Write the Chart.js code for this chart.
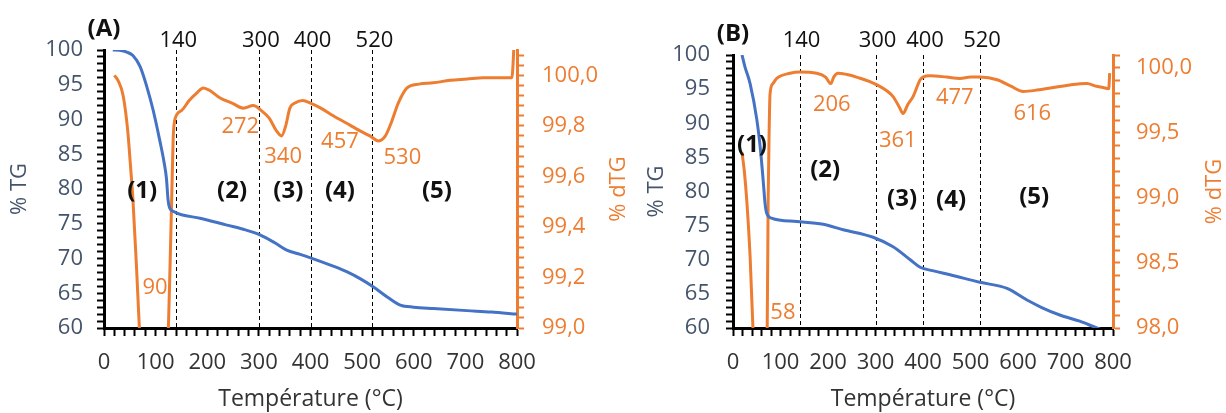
<!DOCTYPE html>
<html>
<head>
<meta charset="utf-8">
<script src="https://cdn.jsdelivr.net/npm/chart.js@4.4.1/dist/chart.umd.min.js"></script>
<style>
  html, body { margin: 0; padding: 0; background: #fff; }
  #wrap { position: relative; width: 1226px; height: 413px; overflow: hidden; }
  canvas { position: absolute; top: 0; }
  #chartA { left: 0; }
  #chartB { left: 615px; }
</style>
</head>
<body>
<div id="wrap">
  <canvas id="chartA" width="630" height="413"></canvas>
  <canvas id="chartB" width="611" height="413"></canvas>
</div>
<script>
// ---- panel A : TG ----
const tgA_T = [17, 30, 44, 56, 70, 83, 95, 108, 116, 121, 124, 127, 134, 150, 186, 238, 270, 302, 330, 354, 380, 400, 444, 470, 496, 522, 550, 574, 600, 638, 703, 750, 800];
const tgA   = [100, 99.95, 99.7, 99.2, 97.6, 94.7, 91.4, 87.0, 84.0, 81.5, 78.5, 77.3, 76.8, 76.3, 75.8, 74.8, 74.2, 73.4, 72.3, 71.2, 70.6, 70.1, 68.9, 68.1, 67.1, 65.9, 64.4, 63.3, 63.0, 62.8, 62.5, 62.3, 62.0];
// ---- panel A : dTG ----
const dtgA_T = [20, 27, 37, 46, 51, 56, 63, 68.5, 78, 90, 100, 112, 120, 125, 128, 131, 134, 138, 150, 165, 180, 192, 205, 225, 248, 270, 289, 305, 320, 334, 344, 352, 360, 370, 385, 400, 420, 444, 470, 496, 515, 532, 545, 556, 570, 587, 610, 638, 670, 703, 735, 767, 790, 795];
const dtgA   = [100.0, 99.98, 99.92, 99.78, 99.65, 99.51, 99.24, 99.0, 98.57, 98.05, 98.1, 98.3, 98.75, 99.02, 99.25, 99.5, 99.75, 99.83, 99.86, 99.9, 99.93, 99.95, 99.94, 99.91, 99.89, 99.87, 99.88, 99.86, 99.83, 99.78, 99.76, 99.8, 99.87, 99.89, 99.9, 99.89, 99.87, 99.84, 99.81, 99.78, 99.76, 99.74, 99.76, 99.81, 99.89, 99.95, 99.965, 99.97, 99.98, 99.985, 99.99, 99.99, 99.99, 100.15];
const stepsA = [140, 300, 400, 520];
const peaksA = ['90', '272', '340', '457', '530'];
const zonesA = ['(1)', '(2)', '(3)', '(4)', '(5)'];

// ---- panel B : TG ----
const tgB_T = [19, 25, 36, 50, 58, 64, 67.4, 71, 81, 134, 190, 232, 295, 337, 373, 394, 420, 457, 520, 577, 619, 650, 688, 730, 766, 790];
const tgB   = [100, 98.3, 95.8, 90.6, 86.0, 81.2, 78.3, 76.8, 76.1, 75.6, 75.2, 74.4, 73.3, 71.9, 70.0, 68.9, 68.4, 67.8, 66.7, 65.8, 64.1, 63.0, 61.9, 61.0, 60.0, 59.4];
// ---- panel B : dTG ----
const dtgB_T = [19, 24, 29, 36, 42, 50, 58, 66, 72, 74, 76, 78, 84, 92, 120, 141, 176, 195, 206, 212, 221, 240, 260, 303, 337, 350, 358, 368, 379, 394, 400, 415, 450, 478, 500, 520, 556, 585, 611, 640, 674, 710, 745, 765, 779, 791, 793];
const dtgB   = [99.35, 99.2, 98.98, 98.55, 98.0, 97.5, 97.3, 97.6, 98.0, 98.98, 99.5, 99.8, 99.88, 99.92, 99.96, 99.97, 99.96, 99.93, 99.88, 99.93, 99.96, 99.95, 99.93, 99.87, 99.78, 99.7, 99.65, 99.72, 99.78, 99.91, 99.93, 99.94, 99.93, 99.92, 99.93, 99.93, 99.91, 99.86, 99.82, 99.83, 99.85, 99.87, 99.88, 99.86, 99.85, 99.84, 99.96];
const stepsB = [140, 300, 400, 520];
const peaksB = ['58', '206', '361', '477', '616'];
const zonesB = ['(1)', '(2)', '(3)', '(4)', '(5)'];

// where the labels sit (x in °C, y on the % TG axis)
const peakPosA = [[99, 65.8], [264, 88.9], [347, 84.6], [457, 86.8], [578, 84.5]];
const zonePosA = [[74, 79.7], [248, 79.7], [357, 79.7], [457, 79.7], [645, 79.7]];
const peakPosB = [[105, 62.2], [208, 92.7], [347, 87.5], [467, 93.8], [630, 91.4]];
const zonePosB = [[40, 86.8], [194, 83.2], [356, 78.9], [459, 78.8], [634, 79.2]];

const FAM = '"Open Sans", sans-serif';
const FS = 22;
const BLUE = '#4472C4';
const ORANGE = '#ED7D31';
const SLATE = '#44546A';

function range(a, b, s) {
  const out = [];
  const n = Math.round((b - a) / s);
  for (let i = 0; i <= n; i++) out.push({ value: +(a + i * s).toFixed(4) });
  return out;
}
function pts(xs, ys) {
  return xs.map((t, i) => ({ x: t, y: ys[i] }));
}
function isMult(v, m) {
  const q = v / m;
  return Math.abs(q - Math.round(q)) < 1e-6;
}

function makePanel(id, p) {
  const annot = {
    id: 'annot',
    beforeDatasetsDraw(chart) {
      const { ctx, chartArea: a, scales: { x } } = chart;
      ctx.save();
      ctx.strokeStyle = '#000';
      ctx.lineWidth = 1;
      ctx.setLineDash([4, 3]);
      p.steps.forEach(v => {
        const px = Math.round(x.getPixelForValue(v)) + 0.5;
        ctx.beginPath();
        ctx.moveTo(px, a.top);
        ctx.lineTo(px, a.bottom);
        ctx.stroke();
      });
      ctx.restore();
    },
    afterDraw(chart) {
      const { ctx, chartArea: a, scales: { x, y } } = chart;
      ctx.save();
      ctx.textAlign = 'center';
      ctx.textBaseline = 'middle';
      ctx.font = FS + 'px ' + FAM;
      ctx.fillStyle = '#111';
      p.steps.forEach(v => ctx.fillText(String(v), x.getPixelForValue(v) + 2, 41));
      ctx.fillStyle = ORANGE;
      p.peaks.forEach((t, i) => ctx.fillText(t, x.getPixelForValue(p.peakPos[i][0]), y.getPixelForValue(p.peakPos[i][1])));
      ctx.font = 'bold 24px ' + FAM;
      ctx.fillStyle = '#111';
      p.zones.forEach((t, i) => ctx.fillText(t, x.getPixelForValue(p.zonePos[i][0]), y.getPixelForValue(p.zonePos[i][1])));
      ctx.fillText(p.name, a.left, p.nameY);
      // right axis title, reading upwards
      ctx.font = FS + 'px ' + FAM;
      ctx.fillStyle = ORANGE;
      ctx.translate(a.right + 102, (a.top + a.bottom) / 2);
      ctx.rotate(-Math.PI / 2);
      ctx.fillText('% dTG', 0, 0);
      ctx.restore();
    }
  };

  const tickFont = { family: FAM, size: FS };

  return new Chart(document.getElementById(id), {
    type: 'line',
    data: {
      datasets: [
        {
          label: '% TG', data: pts(p.tgT, p.tg), yAxisID: 'y',
          borderColor: BLUE, borderWidth: 3, pointRadius: 0,
          cubicInterpolationMode: 'monotone', clip: 0
        },
        {
          label: '% dTG', data: pts(p.dtgT, p.dtg), yAxisID: 'y2',
          borderColor: ORANGE, borderWidth: 3, pointRadius: 0,
          cubicInterpolationMode: 'monotone', clip: 0
        }
      ]
    },
    options: {
      responsive: false,
      animation: false,
      devicePixelRatio: 1,
      layout: { padding: { top: p.top, left: 0, right: 0, bottom: 0 } },
      plugins: { legend: { display: false }, tooltip: { enabled: false } },
      scales: {
        x: {
          type: 'linear', min: 0, max: 800,
          afterBuildTicks: s => { s.ticks = range(0, 800, 20); },
          ticks: {
            autoSkip: false, maxRotation: 0, padding: 14, color: '#333', font: tickFont,
            callback: v => isMult(v, 100) ? String(v) : ''
          },
          grid: { drawOnChartArea: false, tickLength: 8, tickColor: '#000', tickWidth: 2 },
          border: { color: '#000', width: 3 },
          title: { display: true, text: 'Température (°C)', color: '#333', font: { family: FAM, size: 23 }, padding: { top: 0, bottom: 0 } },
          afterFit: s => { s.height = 85; }
        },
        y: {
          position: 'left', min: 60, max: 100,
          afterBuildTicks: s => { s.ticks = range(60, 100, 1); },
          ticks: {
            autoSkip: false, padding: p.leftPad, color: SLATE, font: tickFont,
            callback: v => isMult(v, 5) ? String(v) : ''
          },
          grid: { drawOnChartArea: false, tickLength: 7, tickColor: '#000', tickWidth: 2 },
          border: { color: '#000', width: 3 },
          title: { display: true, text: '% TG', color: SLATE, font: tickFont, padding: { top: p.titlePad, bottom: 0 } },
          afterFit: s => { s.width = p.leftWidth; }
        },
        y2: {
          position: 'right', min: p.y2min, max: p.y2max,
          afterBuildTicks: s => { s.ticks = range(p.y2min, p.y2top, p.y2step); },
          ticks: {
            autoSkip: false, padding: p.rightPad, color: ORANGE, font: tickFont,
            callback: v => isMult(v, p.y2major) ? v.toFixed(1).replace('.', ',') : ''
          },
          grid: { drawOnChartArea: false, tickLength: 7, tickColor: ORANGE, tickWidth: 2 },
          border: { color: ORANGE, width: 3 },
          afterFit: s => { s.width = 113; }
        }
      }
    },
    plugins: [annot]
  });
}

makePanel('chartA', {
  tgT: tgA_T, tg: tgA, dtgT: dtgA_T, dtg: dtgA,
  steps: stepsA, peaks: peaksA, zones: zonesA, peakPos: peakPosA, zonePos: zonePosA,
  name: '(A)', nameY: 29, top: 50, leftWidth: 104, titlePad: 7, leftPad: 14, rightPad: 18,
  y2min: 99, y2max: 100.1, y2top: 100.08, y2step: 0.04, y2major: 0.2
});

makePanel('chartB', {
  tgT: tgB_T, tg: tgB, dtgT: dtgB_T, dtg: dtgB,
  steps: stepsB, peaks: peaksB, zones: zonesB, peakPos: peakPosB, zonePos: zonePosB,
  name: '(B)', nameY: 34, top: 55, leftWidth: 118, titlePad: 29, leftPad: 16, rightPad: 16,
  y2min: 98, y2max: 100.1, y2top: 100.1, y2step: 0.1, y2major: 0.5
});
</script>
</body>
</html>
